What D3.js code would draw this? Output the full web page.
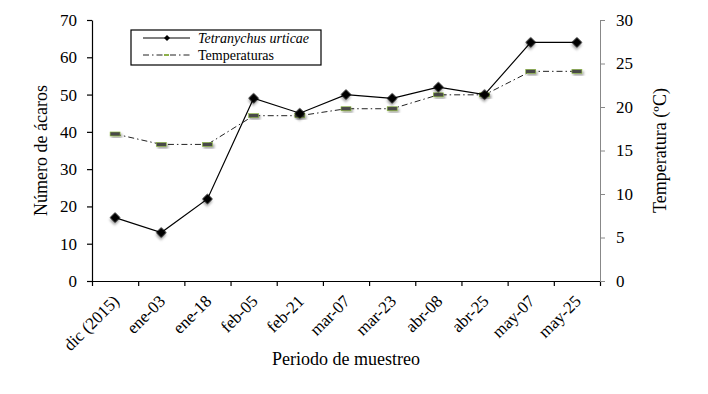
<!DOCTYPE html>
<html>
<head>
<meta charset="utf-8">
<script src="https://cdn.jsdelivr.net/npm/d3@7"></script>
<style>
  body { margin: 0; background: #fff; }
  svg text { font-family: "Liberation Serif", "Times New Roman", serif; fill: #000; }
</style>
</head>
<body>
<svg id="chart" width="708" height="394"></svg>
<script>
(function() {
    'use strict';

    var periods = ['dic (2015)', 'ene-03', 'ene-18', 'feb-05', 'feb-21', 'mar-07',
                   'mar-23', 'abr-08', 'abr-25', 'may-07', 'may-25'];
    var mites = [17, 13, 22, 49, 45, 50, 49, 52, 50, 64, 64];
    var temps = [16.9, 15.7, 15.7, 19.0, 19.0, 19.8, 19.8, 21.4, 21.4, 24.1, 24.1];
    var miteTicks = [0, 10, 20, 30, 40, 50, 60, 70];
    var tempTicks = [0, 5, 10, 15, 20, 25, 30];

    var margin = {top: 20, right: 108, bottom: 113, left: 92},
        width = 708 - margin.left - margin.right,
        height = 394 - margin.top - margin.bottom;

    var svg = d3.select('svg#chart');

    // soft shadow under the markers
    var defs = svg.append('defs');
    var shadow = defs.append('filter').attr('id', 'shadow')
        .attr('x', '-50%').attr('y', '-50%').attr('width', '200%').attr('height', '200%');
    shadow.append('feDropShadow')
        .attr('dx', 1.5).attr('dy', 2).attr('stdDeviation', 1.3)
        .attr('flood-color', '#000').attr('flood-opacity', 0.35);

    var g = svg.append('g')
        .attr('transform', 'translate(' + margin.left + ',' + margin.top + ')');

    var x = d3.scaleBand().domain(periods).range([0, width]).padding(0);
    var xEdges = d3.scaleLinear().domain([0, periods.length]).range([0, width]);
    var yLeft = d3.scaleLinear().domain([0, 70]).range([height, 0]);
    var yRight = d3.scaleLinear().domain([0, 30]).range([height, 0]);

    // x axis: ticks at category edges, labels at centres
    g.append('g')
        .attr('class', 'x axis')
        .attr('transform', 'translate(0,' + height + ')')
        .call(d3.axisBottom(xEdges).tickValues(d3.range(periods.length + 1))
            .tickFormat('').tickSize(5).tickSizeOuter(0))
        .call(function(s) {
            s.selectAll('path, line').attr('stroke', '#000').attr('stroke-width', 1.2);
        });

    var xl = g.append('g')
        .attr('transform', 'translate(0,' + height + ')')
        .call(d3.axisBottom(x).tickSize(0));
    xl.select('.domain').remove();
    xl.selectAll('text')
        .attr('font-size', 17)
        .attr('text-anchor', 'end')
        .attr('dx', 0).attr('dy', 0)
        .attr('transform', 'translate(3,19) rotate(-45)');

    // left axis
    var la = g.append('g')
        .call(d3.axisLeft(yLeft).tickValues(miteTicks).tickSize(5).tickSizeOuter(0));
    la.selectAll('path, line').attr('stroke', '#000').attr('stroke-width', 1.2);
    la.selectAll('text').attr('font-size', 17).attr('x', -15);

    // right axis
    var ra = g.append('g')
        .attr('transform', 'translate(' + width + ',0)')
        .call(d3.axisRight(yRight).tickValues(tempTicks).tickSize(5).tickSizeOuter(0));
    ra.selectAll('path, line').attr('stroke', '#888').attr('stroke-width', 1);
    ra.selectAll('text').attr('font-size', 17).attr('x', 16);

    // axis titles
    g.append('text')
        .attr('x', width / 2).attr('y', height + 84)
        .attr('text-anchor', 'middle').attr('font-size', 18)
        .text('Periodo de muestreo');
    g.append('text')
        .attr('transform', 'translate(-45,' + (height / 2) + ') rotate(-90)')
        .attr('text-anchor', 'middle').attr('font-size', 18)
        .text('Número de ácaros');
    g.append('text')
        .attr('transform', 'translate(' + (width + 66) + ',' + (height / 2) + ') rotate(-90)')
        .attr('text-anchor', 'middle').attr('font-size', 18)
        .text('Temperatura (ºC)');

    var cx = function(d, i) { return x(periods[i]) + x.bandwidth() / 2; };

    // temperature series
    g.append('path')
        .datum(temps)
        .attr('fill', 'none')
        .attr('stroke', '#222')
        .attr('stroke-width', 1)
        .attr('stroke-dasharray', '6,3,1.5,3')
        .attr('d', d3.line().x(cx).y(function(d) { return yRight(d); }));

    g.selectAll('.tmark')
        .data(temps)
        .enter().append('rect')
        .attr('class', 'tmark')
        .attr('x', function(d, i) { return cx(d, i) - 5; })
        .attr('y', function(d) { return yRight(d) - 2; })
        .attr('width', 10).attr('height', 4)
        .attr('fill', '#4a4a4a').attr('stroke', '#8fbc3f').attr('stroke-width', 0.6)
        .attr('filter', 'url(#shadow)');

    // mites series
    g.append('path')
        .datum(mites)
        .attr('fill', 'none')
        .attr('stroke', '#000')
        .attr('stroke-width', 1.2)
        .attr('d', d3.line().x(cx).y(function(d) { return yLeft(d); }));

    var diamond = d3.symbol().type(d3.symbolSquare).size(55);
    g.selectAll('.mmark')
        .data(mites)
        .enter().append('path')
        .attr('class', 'mmark')
        .attr('d', diamond)
        .attr('transform', function(d, i) {
            return 'translate(' + cx(d, i) + ',' + yLeft(d) + ') rotate(45)';
        })
        .attr('fill', '#000')
        .attr('filter', 'url(#shadow)');

    // legend
    var lg = svg.append('g').attr('transform', 'translate(131,30)');
    lg.append('rect')
        .attr('width', 190).attr('height', 35)
        .attr('fill', '#fff').attr('stroke', '#000').attr('stroke-width', 1.2);
    lg.append('line').attr('x1', 12).attr('x2', 59).attr('y1', 8).attr('y2', 8)
        .attr('stroke', '#000').attr('stroke-width', 1.2);
    lg.append('path').attr('d', d3.symbol().type(d3.symbolSquare).size(18))
        .attr('transform', 'translate(36,8) rotate(45)').attr('fill', '#000');
    lg.append('text').attr('x', 67).attr('y', 13).attr('font-size', 14)
        .attr('font-style', 'italic').text('Tetranychus urticae');
    lg.append('line').attr('x1', 12).attr('x2', 59).attr('y1', 25).attr('y2', 25)
        .attr('stroke', '#222').attr('stroke-width', 1)
        .attr('stroke-dasharray', '6,3,1.5,3');
    lg.append('rect').attr('x', 33).attr('y', 24).attr('width', 5).attr('height', 2)
        .attr('fill', '#8db04a');
    lg.append('text').attr('x', 67).attr('y', 30).attr('font-size', 14)
        .text('Temperaturas');
})();
</script>
</body>
</html>
